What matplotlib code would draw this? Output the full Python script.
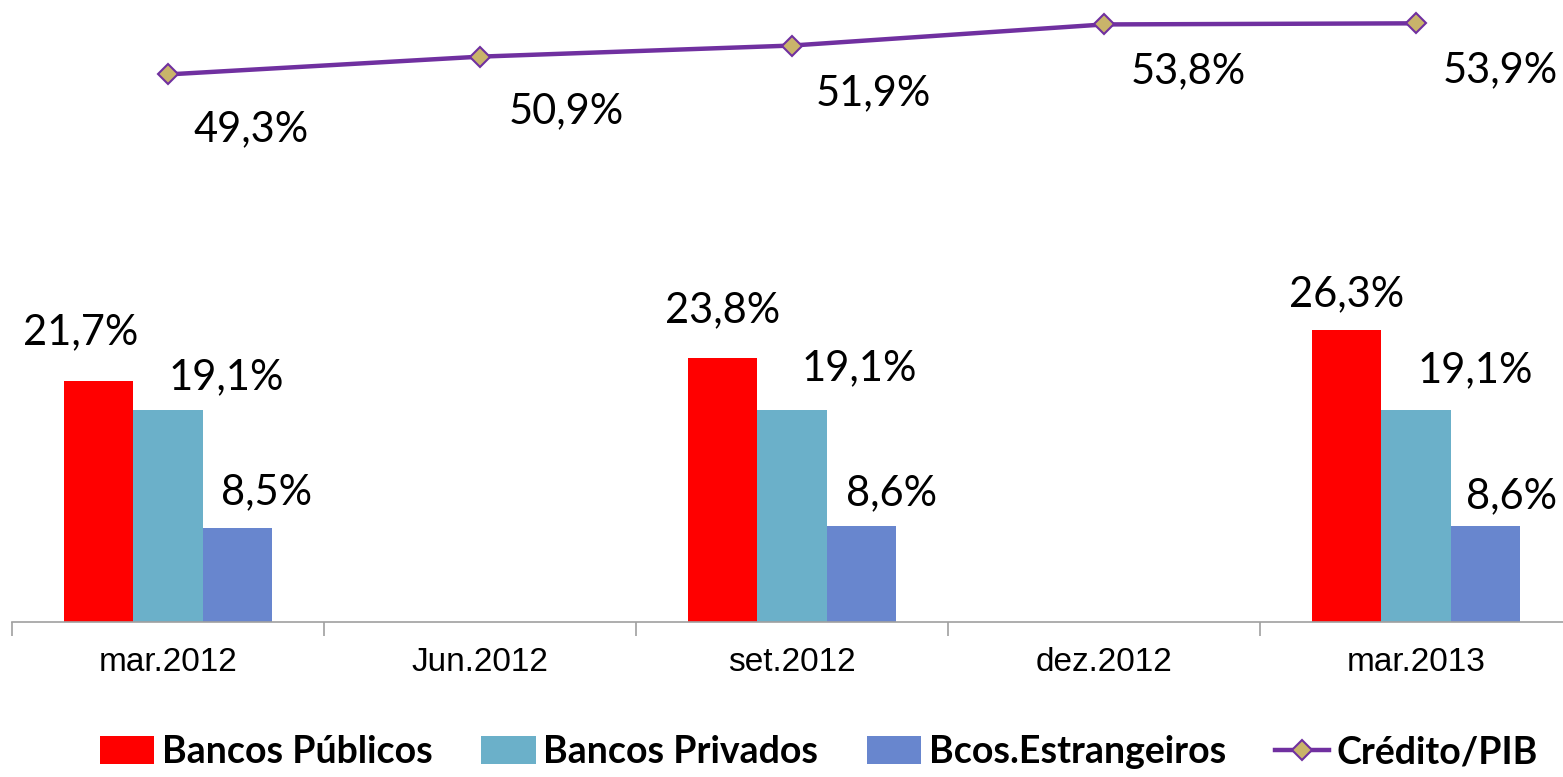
import matplotlib
matplotlib.use('Agg')
import matplotlib.pyplot as plt
import numpy as np

# dados (% do PIB)
categorias = ['mar.2012', 'Jun.2012', 'set.2012', 'dez.2012', 'mar.2013']
bancos_publicos = [21.7, np.nan, 23.8, np.nan, 26.3]
bancos_privados = [19.1, np.nan, 19.1, np.nan, 19.1]
bcos_estrangeiros = [8.5, np.nan, 8.6, np.nan, 8.6]
credito_pib = [49.3, 50.9, 51.9, 53.8, 53.9]

cor_pub = '#FF0000'
cor_priv = '#6BB0C9'
cor_estr = '#6886CE'
cor_linha = '#7030A0'
cor_marc = '#C9B46A'

# deslocamento dos rotulos em pixels (movidos a mao no original)
desloc_linha = [(83, -55), (86, -55), (81, -48), (84, -47), (84, -47)]
desloc_pub = [(-18, 49), (0, 47), (0, 36)]
desloc_priv = [(58, 33), (67, 42), (59, 40)]
desloc_estr = [(29, 35), (30, 33), (26, 30)]

fonte_rot = 'Lato'


def fmt(v):
    return f'{v:.1f}%'.replace('.', ',')


def main():
    fig = plt.figure(figsize=(15.63, 7.77), dpi=100)
    ax = fig.add_axes([12 / 1563, 155 / 777, 1560 / 1563, 622 / 777])

    x = np.arange(len(categorias))
    w = 0.222
    series = [(bancos_publicos, cor_pub, 'Bancos Públicos', -w, desloc_pub),
              (bancos_privados, cor_priv, 'Bancos Privados', 0, desloc_priv),
              (bcos_estrangeiros, cor_estr, 'Bcos.Estrangeiros', w, desloc_estr)]
    handles = []
    for vals, cor, nome, dx, desl in series:
        h = ax.bar(x + dx, vals, w, color=cor, label=nome)
        handles.append(h)
        pontos = [(xi, v) for xi, v in zip(x, vals) if not np.isnan(v)]
        for (xi, v), d in zip(pontos, desl):
            ax.annotate(fmt(v), (xi + dx, v), xytext=d,
                        textcoords='offset pixels', ha='center', va='center',
                        fontsize=30, family=fonte_rot, color='black')

    linha, = ax.plot(x, credito_pib, color=cor_linha, lw=3.2, marker='D', ms=10,
                     mfc=cor_marc, mec=cor_linha, mew=1.5, label='Crédito/PIB')
    handles.append(linha)
    for xi, v, d in zip(x, credito_pib, desloc_linha):
        ax.annotate(fmt(v), (xi, v), xytext=d, textcoords='offset pixels',
                    ha='center', va='center', fontsize=30, family=fonte_rot)

    ax.set_xlim(-0.5, len(categorias) - 0.5)
    ax.set_ylim(0, 56)
    ax.set_xticks(x)
    ax.set_xticklabels(categorias, fontsize=24, family='Liberation Sans')
    ax.tick_params(axis='x', which='major', length=0, pad=18)
    ax.set_xticks(np.arange(-0.5, len(categorias)), minor=True)
    ax.tick_params(axis='x', which='minor', length=10, color='#A0A0A0', width=1.2)
    ax.set_yticks([])
    for s in ['top', 'right', 'left']:
        ax.spines[s].set_visible(False)
    ax.spines['bottom'].set_color('#A0A0A0')
    ax.spines['bottom'].set_linewidth(1.2)

    fig.legend(handles=handles, loc='center', bbox_to_anchor=(0.524, 1 - 752 / 777),
               ncol=4, frameon=False,
               prop={'family': 'Lato', 'weight': 'bold', 'size': 27},
               handlelength=1.45, handleheight=0.75, handletextpad=0.2,
               columnspacing=1.3)

    fig.savefig('out.png', dpi=100)


if __name__ == "__main__":
    main()
